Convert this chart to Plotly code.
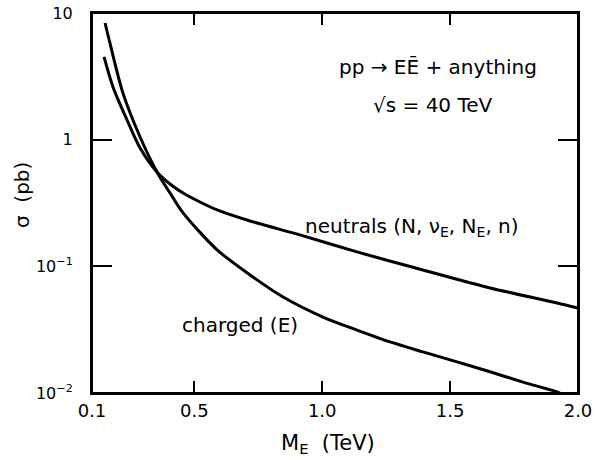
import plotly.graph_objects as go

# Data (M_E in TeV, sigma in pb)
charged_m = [0.151, 0.170, 0.221, 0.288, 0.354, 0.405, 0.456, 0.589, 0.718, 0.847, 1.003, 1.136, 1.265, 1.394, 1.527, 1.656, 1.785, 1.918, 1.937]
charged_sigma = [8.34, 5.8, 2.33, 1.05, 0.556, 0.379, 0.264, 0.135, 0.0855, 0.0573, 0.0398, 0.0314, 0.0253, 0.0211, 0.0176, 0.0147, 0.0122, 0.0102, 0.0098]

neutral_m = [0.147, 0.182, 0.237, 0.288, 0.354, 0.405, 0.456, 0.522, 0.589, 0.718, 0.913, 1.136, 1.394, 1.656, 1.918, 2.0]
neutral_sigma = [4.50, 2.61, 1.43, 0.859, 0.556, 0.447, 0.379, 0.322, 0.279, 0.228, 0.177, 0.130, 0.0935, 0.0675, 0.0514, 0.0469]

x_tickvals = [0.1, 0.5, 1.0, 1.5, 2.0]
x_ticktext = ["0.1", "0.5", "1.0", "1.5", "2.0"]
y_tickvals = [0.01, 0.1, 1, 10]
y_ticktext = ["10<sup>−2</sup>", "10<sup>−1</sup>", "1", "10"]

FONT = "DejaVu Sans"

fig = go.Figure()
fig.add_trace(go.Scatter(x=charged_m, y=charged_sigma, mode="lines",
                         line=dict(color="black", width=3, shape="spline", smoothing=0.8),
                         name="charged (E)", showlegend=False))
fig.add_trace(go.Scatter(x=neutral_m, y=neutral_sigma, mode="lines",
                         line=dict(color="black", width=3, shape="spline", smoothing=0.8),
                         name="neutrals", showlegend=False))

fig.update_layout(
    width=599, height=460,
    margin=dict(l=92, r=21, t=13, b=67),
    paper_bgcolor="white", plot_bgcolor="white",
    font=dict(family=FONT, size=18, color="black"),
    showlegend=False,
)
fig.update_xaxes(
    range=[0.1, 2.0], tickvals=x_tickvals, ticktext=x_ticktext,
    ticks="inside", ticklen=12, tickwidth=2, tickcolor="black",
    showline=True, linewidth=2, linecolor="black", mirror="ticks",
    showgrid=False, zeroline=False, automargin=False,
    ticklabeloverflow="allow",
    tickfont=dict(family=FONT, size=18),
)
fig.update_yaxes(
    type="log", range=[-2, 1], tickvals=y_tickvals, ticktext=y_ticktext,
    ticks="inside", ticklen=20, tickwidth=2, tickcolor="black",
    showline=True, linewidth=2, linecolor="black", mirror="ticks",
    showgrid=False, zeroline=False, automargin=False,
    ticklabeloverflow="allow",
    tickfont=dict(family=FONT, size=16), ticklabelstandoff=14,
)

fig.add_shape(type="rect", xref="paper", yref="paper", x0=0, y0=0, x1=1, y1=1,
              line=dict(color="black", width=2), fillcolor="rgba(0,0,0,0)", layer="above")

annotations = [
    dict(text="pp → EĒ + anything", x=0.712, y=0.858, xanchor="center", size=20, angle=0),
    dict(text="√s = 40 TeV", x=0.702, y=0.758, xanchor="center", size=20, angle=0),
    dict(text="neutrals (N, ν<sub>E</sub>, N<sub>E</sub>, n)", x=0.434, y=0.437, xanchor="left", size=20, angle=0),
    dict(text="charged (E)", x=0.305, y=0.179, xanchor="center", size=20, angle=0),
    dict(text="M<sub>E</sub>  (TeV)", x=0.486, y=-0.135, xanchor="center", size=21, angle=0),
    dict(text="σ  (pb)", x=-0.144, y=0.521, xanchor="center", size=20, angle=-90),
]
for a in annotations:
    fig.add_annotation(text=a["text"], x=a["x"], y=a["y"], xref="paper", yref="paper",
                       showarrow=False, xanchor=a["xanchor"], yanchor="middle",
                       textangle=a["angle"],
                       font=dict(family=FONT, size=a["size"], color="black"))

# remove the page's default body margin so the figure fills the window exactly
fig.write_html("out.html", config={"displayModeBar": False},
               post_script="document.body.style.margin='0px';")
